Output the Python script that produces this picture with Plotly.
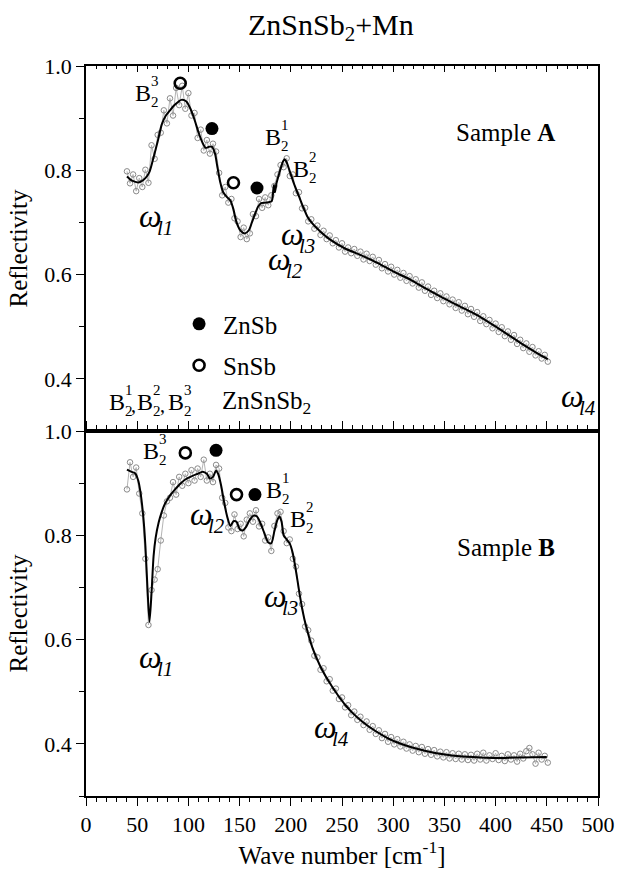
import plotly.graph_objects as go

FONT = "Liberation Serif"

# ---------------- data: Sample A (top panel) ----------------
wn_data = [40, 43, 46, 49, 52, 55, 58, 61, 64, 67,
           70, 73, 76, 79, 82, 85, 88, 91, 94, 97,
           100, 103, 106, 109, 112, 115, 118, 121, 124, 127,
           130, 133, 136, 139, 142, 145, 148, 151, 154, 157,
           160, 163, 166, 169, 172, 175, 178, 181, 184, 187,
           190, 193, 196, 199, 202, 205, 208, 211, 214, 217,
           220, 223, 226, 229, 232, 235, 238, 241, 244, 247,
           250, 253, 256, 259, 262, 265, 268, 271, 274, 277,
           280, 283, 286, 289, 292, 295, 298, 301, 304, 307,
           310, 313, 316, 319, 322, 325, 328, 331, 334, 337,
           340, 343, 346, 349, 352, 355, 358, 361, 364, 367,
           370, 373, 376, 379, 382, 385, 388, 391, 394, 397,
           400, 403, 406, 409, 412, 415, 418, 421, 424, 427,
           430, 433, 436, 439, 442, 445, 448, 451]

refl_A = [0.798, 0.775, 0.792, 0.760, 0.785, 0.768, 0.801, 0.776, 0.848, 0.822,
          0.868, 0.872, 0.915, 0.890, 0.938, 0.905, 0.958, 0.925, 0.962, 0.918,
          0.948, 0.905, 0.910, 0.862, 0.878, 0.838, 0.858, 0.832, 0.851, 0.836,
          0.795, 0.752, 0.768, 0.738, 0.745, 0.708, 0.702, 0.672, 0.690, 0.668,
          0.679, 0.716, 0.712, 0.745, 0.728, 0.748, 0.733, 0.752, 0.770, 0.792,
          0.810, 0.806, 0.823, 0.789, 0.792, 0.756, 0.758, 0.727, 0.728, 0.702,
          0.706, 0.688, 0.694, 0.676, 0.684, 0.668, 0.675, 0.660, 0.666, 0.652,
          0.660, 0.644, 0.652, 0.641, 0.649, 0.636, 0.644, 0.629, 0.640, 0.626,
          0.634, 0.619, 0.628, 0.612, 0.620, 0.606, 0.615, 0.600, 0.609, 0.594,
          0.603, 0.588, 0.597, 0.583, 0.591, 0.575, 0.585, 0.569, 0.577, 0.561,
          0.569, 0.555, 0.564, 0.549, 0.558, 0.543, 0.552, 0.536, 0.547, 0.531,
          0.540, 0.524, 0.534, 0.519, 0.528, 0.511, 0.520, 0.505, 0.513, 0.497,
          0.506, 0.490, 0.499, 0.482, 0.491, 0.475, 0.484, 0.467, 0.475, 0.459,
          0.468, 0.452, 0.461, 0.445, 0.453, 0.439, 0.446, 0.433]

fit_A_x = [40, 45, 52, 58, 62, 66, 70, 74, 78, 82, 87, 93, 98, 102, 106, 110,
           114, 117, 120, 123, 126, 128, 131, 134, 138, 141, 144, 147, 151,
           155, 159, 162, 165, 168, 171, 176, 181, 182, 183.5, 184.5, 186,
           189, 192, 194, 196, 199, 203, 208, 212, 216, 221, 229, 237, 253,
           270, 285, 300, 317, 333, 349, 365, 381, 397, 412, 425, 440, 451]
fit_A_y = [0.788, 0.780, 0.777, 0.785, 0.797, 0.825, 0.855, 0.888, 0.905,
           0.915, 0.926, 0.935, 0.932, 0.918, 0.897, 0.872, 0.852, 0.843,
           0.845, 0.845, 0.832, 0.810, 0.778, 0.758, 0.748, 0.742, 0.725,
           0.700, 0.684, 0.679, 0.685, 0.700, 0.716, 0.730, 0.737, 0.738,
           0.740, 0.745, 0.772, 0.758, 0.775, 0.796, 0.815, 0.821, 0.815,
           0.798, 0.775, 0.750, 0.730, 0.712, 0.698, 0.682, 0.669, 0.650,
           0.636, 0.622, 0.606, 0.590, 0.572, 0.555, 0.539, 0.523, 0.504,
           0.485, 0.468, 0.450, 0.438]

# ---------------- data: Sample B (bottom panel) ----------------
refl_B = [0.888, 0.940, 0.912, 0.930, 0.880, 0.842, 0.755, 0.628, 0.695, 0.715,
          0.735, 0.790, 0.838, 0.865, 0.872, 0.902, 0.878, 0.912, 0.895, 0.918,
          0.900, 0.925, 0.905, 0.928, 0.912, 0.945, 0.905, 0.918, 0.902, 0.935,
          0.928, 0.872, 0.862, 0.815, 0.808, 0.840, 0.812, 0.822, 0.798, 0.830,
          0.842, 0.826, 0.848, 0.817, 0.822, 0.790, 0.796, 0.770, 0.818, 0.842,
          0.845, 0.808, 0.785, 0.792, 0.755, 0.740, 0.688, 0.668, 0.625, 0.618,
          0.598, 0.569, 0.566, 0.542, 0.545, 0.520, 0.524, 0.502, 0.506, 0.486,
          0.489, 0.470, 0.474, 0.455, 0.462, 0.446, 0.452, 0.436, 0.443, 0.427,
          0.434, 0.419, 0.426, 0.411, 0.419, 0.404, 0.413, 0.399, 0.409, 0.395,
          0.404, 0.391, 0.399, 0.387, 0.396, 0.384, 0.394, 0.381, 0.390, 0.379,
          0.388, 0.376, 0.385, 0.374, 0.384, 0.372, 0.382, 0.371, 0.381, 0.370,
          0.380, 0.369, 0.379, 0.368, 0.381, 0.370, 0.383, 0.368, 0.378, 0.371,
          0.382, 0.369, 0.377, 0.367, 0.380, 0.370, 0.378, 0.366, 0.381, 0.372,
          0.386, 0.392, 0.380, 0.362, 0.383, 0.370, 0.377, 0.364]

fit_B_x = [40, 44, 48, 51, 53, 56, 58, 60, 62, 64, 66, 68, 71, 74, 77, 82, 87,
           92, 97, 103, 109, 114, 118, 121, 124, 127, 129, 132, 135, 138, 141,
           144, 147, 150, 153, 156, 160, 164, 167, 170, 174, 178, 181, 184,
           187, 189, 191, 193, 196, 199, 202, 205, 208, 211, 215, 221, 229,
           237, 245, 253, 261, 269, 280, 291, 301, 317, 333, 349, 365, 385,
           405, 425, 450]
fit_B_y = [0.926, 0.922, 0.919, 0.905, 0.885, 0.835, 0.780, 0.700, 0.634,
           0.690, 0.760, 0.795, 0.825, 0.845, 0.860, 0.876, 0.888, 0.899,
           0.907, 0.913, 0.918, 0.922, 0.918, 0.909, 0.912, 0.924, 0.918,
           0.895, 0.862, 0.835, 0.818, 0.827, 0.826, 0.812, 0.809, 0.815,
           0.830, 0.838, 0.836, 0.825, 0.805, 0.786, 0.785, 0.808, 0.830,
           0.836, 0.826, 0.800, 0.792, 0.784, 0.765, 0.732, 0.695, 0.660,
           0.625, 0.585, 0.548, 0.520, 0.496, 0.475, 0.458, 0.444, 0.428,
           0.415, 0.405, 0.394, 0.386, 0.380, 0.376, 0.374, 0.373, 0.374,
           0.375]

# phonon assignments (markers)
znsb_A_x, znsb_A_y = [123, 167], [0.880, 0.766]
snsb_A_x, snsb_A_y = [92, 144], [0.967, 0.776]
znsb_B_x, znsb_B_y = [127, 165], [0.963, 0.878]
snsb_B_x, snsb_B_y = [97, 147], [0.958, 0.878]

x_ticks = [0, 50, 100, 150, 200, 250, 300, 350, 400, 450, 500]
y_ticks = [0.4, 0.6, 0.8, 1.0]

fig = go.Figure()

def add_panel(xa, ya, data_y, fx, fy, zx, zy, sx, sy, legend):
    fig.add_trace(go.Scatter(
        x=wn_data, y=data_y, xaxis=xa, yaxis=ya, mode="lines+markers",
        line=dict(color="#b4b4b4", width=1),
        marker=dict(symbol="circle-open", size=5.5, color="#8a8a8a",
                    line=dict(width=1, color="#8a8a8a")),
        showlegend=False, hoverinfo="skip"))
    fig.add_trace(go.Scatter(
        x=fx, y=fy, xaxis=xa, yaxis=ya, mode="lines",
        line=dict(color="black", width=2, shape="spline", smoothing=0.7),
        showlegend=False, hoverinfo="skip"))
    fig.add_trace(go.Scatter(
        x=zx, y=zy, xaxis=xa, yaxis=ya, mode="markers", name="ZnSb",
        legendgroup="g1",
        marker=dict(symbol="circle", size=13, color="black"),
        showlegend=legend))
    fig.add_trace(go.Scatter(
        x=sx, y=sy, xaxis=xa, yaxis=ya, mode="markers", name="SnSb",
        legendgroup="g2",
        marker=dict(symbol="circle-open", size=11, color="black",
                    line=dict(width=2.6, color="black")),
        showlegend=legend))

add_panel("x2", "y2", refl_A, fit_A_x, fit_A_y, znsb_A_x, znsb_A_y,
          snsb_A_x, snsb_A_y, True)
add_panel("x", "y", refl_B, fit_B_x, fit_B_y, znsb_B_x, znsb_B_y,
          snsb_B_x, snsb_B_y, False)

anns = []

def txt(x, y, text, xref, yref, size=25, xanchor="center", yanchor="middle",
        xshift=0, yshift=0):
    anns.append(dict(x=x, y=y, xref=xref, yref=yref, text=text,
                     showarrow=False, xanchor=xanchor, yanchor=yanchor,
                     xshift=xshift, yshift=yshift,
                     font=dict(family=FONT, size=size, color="black")))

def bsym(x, y, sup, xref, yref):
    txt(x, y, "B", xref, yref, size=24)
    txt(x, y, sup, xref, yref, size=15, xshift=12, yshift=12)
    txt(x, y, "2", xref, yref, size=15, xshift=12, yshift=-9)

def omega(x, y, sub, xref, yref):
    txt(x, y, "<i>ω</i>", xref, yref, size=32, xanchor="left")
    txt(x, y, "<i>" + sub + "</i>", xref, yref, size=21, xanchor="left",
        xshift=18, yshift=-12)

# top panel labels
bsym(56, 0.949, "3", "x2", "y2")
bsym(182.7, 0.864, "1", "x2", "y2")
bsym(209.8, 0.802, "2", "x2", "y2")
omega(50, 0.712, "l1", "x2", "y2")
omega(188, 0.678, "l3", "x2", "y2")
omega(176, 0.630, "l2", "x2", "y2")
omega(462, 0.368, "l4", "x2", "y2")
txt(410, 0.873, "Sample <b>A</b>", "x2", "y2")
bsym(30.2, 0.3555, "1", "x2", "y2")
txt(46.5, 0.350, ",", "x2", "y2", size=20)
bsym(58, 0.3555, "2", "x2", "y2")
txt(75.0, 0.350, ",", "x2", "y2", size=20)
bsym(87.6, 0.3555, "3", "x2", "y2")
txt(131, 0.3555, "ZnSnSb<sub>2</sub>", "x2", "y2", xanchor="left")

# bottom panel labels
bsym(63.2, 0.962, "3", "x", "y")
bsym(183.9, 0.886, "1", "x", "y")
bsym(207.4, 0.832, "2", "x", "y")
omega(99.6, 0.840, "l2", "x", "y")
omega(171.5, 0.683, "l3", "x", "y")
omega(50, 0.567, "l1", "x", "y")
omega(221, 0.432, "l4", "x", "y")
txt(410, 0.776, "Sample <b>B</b>", "x", "y")

# figure title
txt(0.479, 1.053, "ZnSnSb<sub>2</sub>+Mn", "paper", "paper", size=30)

axis_common = dict(showline=True, linecolor="black", linewidth=1.6,
                   showgrid=False, zeroline=False,
                   tickcolor="black", tickwidth=1.4,
                   tickfont=dict(family=FONT, size=22, color="black"))

right_common = dict(overlaying=None, side="right", range=[0.3, 1.0],
                    tickvals=y_ticks, ticks="inside", ticklen=7,
                    showticklabels=False, showline=False, showgrid=False,
                    zeroline=False, tickcolor="black", tickwidth=1.4,
                    minor=dict(dtick=0.1, tick0=0.3, ticklen=4,
                               tickcolor="black", ticks="inside",
                               tickwidth=1.2))

y3 = dict(right_common, overlaying="y", anchor="x")
y4 = dict(right_common, overlaying="y2", anchor="x2")

fig.update_layout(
    width=627, height=877,
    margin=dict(l=86, r=19, t=66, b=75),
    paper_bgcolor="white", plot_bgcolor="white",
    font=dict(family=FONT, color="black"),
    annotations=anns,
    showlegend=True,
    legend=dict(x=0.174, y=0.678, xanchor="left", yanchor="top",
                bgcolor="rgba(0,0,0,0)", tracegroupgap=6, itemwidth=38,
                font=dict(family=FONT, size=25, color="black")),
    xaxis=dict(domain=[0, 1], anchor="y", range=[0, 500],
               tickvals=x_ticks, ticks="outside", ticklen=8, mirror="ticks",
               minor=dict(dtick=10, ticklen=4, tickcolor="black",
                          ticks="outside", tickwidth=1.2),
               title=dict(text="Wave number [cm<sup>-1</sup>]", standoff=10,
                          font=dict(family=FONT, size=25, color="black")),
               **axis_common),
    xaxis2=dict(domain=[0, 1], anchor="y2", range=[0, 500], matches="x",
                tickvals=x_ticks, ticks="inside", ticklen=6, mirror="ticks",
                showticklabels=False,
                minor=dict(dtick=10, ticklen=3, tickcolor="black",
                           ticks="inside", tickwidth=1.2),
                **axis_common),
    yaxis=dict(domain=[0, 0.5], anchor="x", range=[0.3, 1.0], mirror=True,
               tickvals=y_ticks, tickformat=".1f", ticks="outside", ticklen=8,
               minor=dict(dtick=0.1, tick0=0.3, ticklen=5, tickcolor="black",
                          ticks="outside", tickwidth=1.2),
               title=dict(text="Reflectivity", standoff=10,
                          font=dict(family=FONT, size=25, color="black")),
               **axis_common),
    yaxis2=dict(domain=[0.5, 1], anchor="x2", range=[0.3, 1.0], mirror=True,
                tickvals=y_ticks, tickformat=".1f", ticks="outside", ticklen=8,
                minor=dict(dtick=0.1, tick0=0.3, ticklen=5, tickcolor="black",
                           ticks="outside", tickwidth=1.2),
                title=dict(text="Reflectivity", standoff=10,
                           font=dict(family=FONT, size=25, color="black")),
                **axis_common),
    yaxis3=y3,
    yaxis4=y4,
)

fig.write_html("out.html")
